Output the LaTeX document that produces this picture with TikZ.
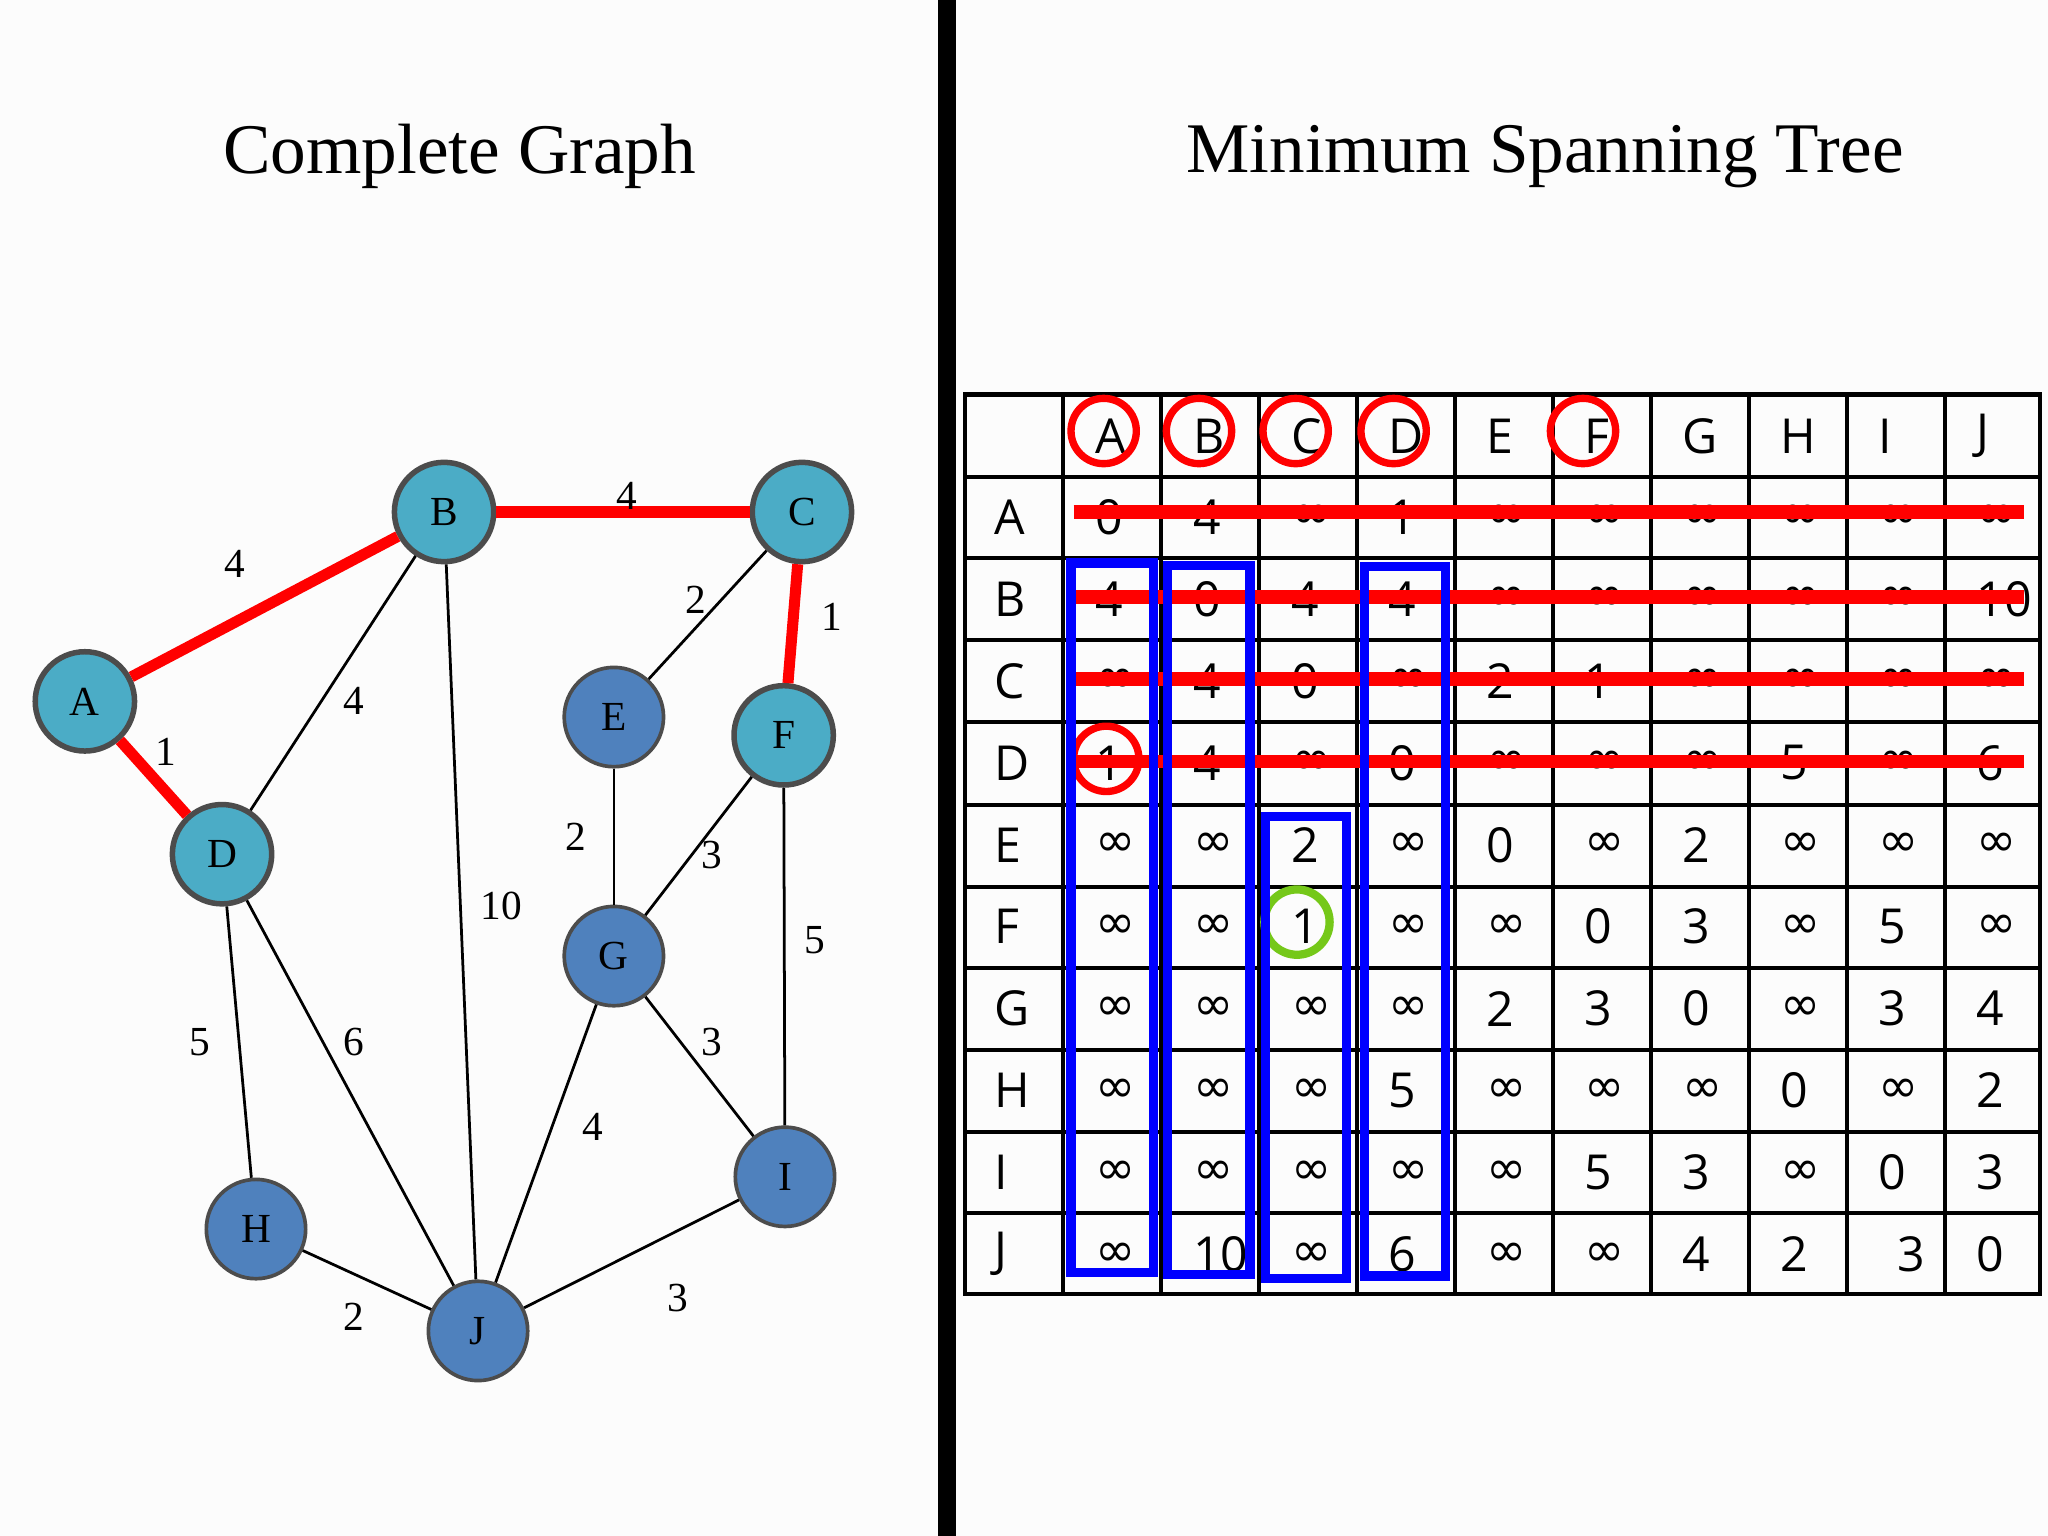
\documentclass[tikz,border=0pt]{standalone}
\usepackage{fontspec}
\setmainfont{Liberation Serif}
\newfontfamily\tabfont{Open Sans}
\newfontfamily\dvs{DejaVu Sans}
\newcommand{\myinf}{{\dvs ∞}}
\def\ii{i}
\def\xx{X}
\begin{document}
\begin{tikzpicture}[x=0.01cm,y=-0.01cm,
  lt/.style={circle,draw=black!70,line width=1.2pt,fill={rgb,255:red,75;green,172;blue,198},minimum size=0.76cm,inner sep=0pt,font=\fontsize{9}{9}\selectfont},
  dk/.style={circle,draw=black!70,line width=0.8pt,fill={rgb,255:red,79;green,129;blue,189},minimum size=0.76cm,inner sep=0pt,font=\fontsize{9}{9}\selectfont},
  ed/.style={black,line width=0.6pt},
  redl/.style={red,line width=2.4pt},
  el/.style={font=\fontsize{9}{9}\selectfont},
  tt/.style={font=\tabfont\fontsize{10.5}{11}\selectfont,anchor=west}]
\fill[white!99!black] (0,0) rectangle (1568,1176);
\useasboundingbox (0,0) rectangle (1568,1176);
\fill[black] (718,0) rectangle (732,1176);
\node[font=\fontsize{15.5}{16}\selectfont] (t1) at (352,120) {Complete Graph};
\node[font=\fontsize{15.5}{16}\selectfont] (t2) at (1183,120) {Minimum Spanning Tree};
% graph
\node[lt] (A) at (65,537) {A};
\node[lt] (B) at (340,392) {B};
\node[lt] (C) at (614,392) {C};
\node[lt] (F) at (600,563) {F};
\node[lt] (D) at (170,654) {D};
\node[dk] (E) at (470,549) {E};
\node[dk] (G) at (470,732) {G};
\node[dk] (I) at (601,901) {I};
\node[dk] (H) at (196,941) {H};
\node[dk] (J) at (366,1019) {J};
\draw[ed] (B)--(D); \draw[ed] (B)--(J); \draw[ed] (C)--(E); \draw[ed] (E)--(G);
\draw[ed] (F)--(G); \draw[ed] (F)--(I); \draw[ed] (G)--(I); \draw[ed] (G)--(J);
\draw[ed] (D)--(H); \draw[ed] (D)--(J); \draw[ed] (H)--(J); \draw[ed] (I)--(J);
\draw[redl] (A)--(B); \draw[redl] (A)--(D); \draw[redl] (B)--(C); \draw[redl] (C)--(F);
\foreach \x/\y/\t in {180/432/4,127/576/1,480/380/4,637/472/1,271/537/4,384/694/10,533/459/2,441/641/2,545/655/3,624/720/5,545/798/3,454/863/4,153/798/5,271/798/6,271/1008/2,519/994/3}
  \node[el] at (\x,\y) {\t};
% table
\draw[line width=0.9pt] (739,302) rectangle (1562,991);
\foreach \x in {814,889,964,1039,1114,1189,1264,1339,1414,1489}
  \draw[line width=0.9pt] (\x,302)--(\x,991);
\foreach \y in {365,427,490,553,616,679,741,804,867,929}
  \draw[line width=0.9pt] (739,\y)--(1562,\y);
\foreach \t [count=\i from 0] in {A,B,C,D,E,F,G,H,I,J}{
  \node[tt] at (814+75*\i+12,334) {\t};
  \node[tt] at (739+10,396+62.7*\i) {\t};
}
\newcommand{\trow}[2]{%
  \foreach \v [count=\i from 0] in {#2}{
    \ifx\v\ii\node[tt] at (814+75*\i+12,396+62.7*#1) {\myinf};
    \else\ifx\v\xx\node[tt] at (1440,396+62.7*#1) {3};
    \else\node[tt] at (814+75*\i+12,396+62.7*#1) {\v};\fi\fi}}
\trow{0}{0,4,i,1,i,i,i,i,i,i}
\trow{1}{4,0,4,4,i,i,i,i,i,10}
\trow{2}{i,4,0,i,2,1,i,i,i,i}
\trow{3}{1,4,i,0,i,i,i,5,i,6}
\trow{4}{i,i,2,i,0,i,2,i,i,i}
\trow{5}{i,i,1,i,i,0,3,i,5,i}
\trow{6}{i,i,i,i,2,3,0,i,3,4}
\trow{7}{i,i,i,5,i,i,i,0,i,2}
\trow{8}{i,i,i,i,i,5,3,i,0,3}
\trow{9}{i,10,i,6,i,i,4,2,X,0}
% marks
\foreach \y in {392,457,520,583} \draw[red,line width=3pt] (822,\y)--(1550,\y);
\foreach \x in {845,918,992,1067,1212} \draw[red,line width=1.6pt] (\x,330) circle (25);
\draw[red,line width=1.6pt] (847,581) circle (25);
\draw[green!60!black!60!yellow!90,line width=1.8pt] (993,706) circle (25);
\foreach \a/\b/\c/\d in {820/431/883/974,894/433/957/976,969/625/1031/979,1045/434/1107/977}
  \draw[blue,line width=2pt] (\a,\b) rectangle (\c,\d);
\end{tikzpicture}
\end{document}
